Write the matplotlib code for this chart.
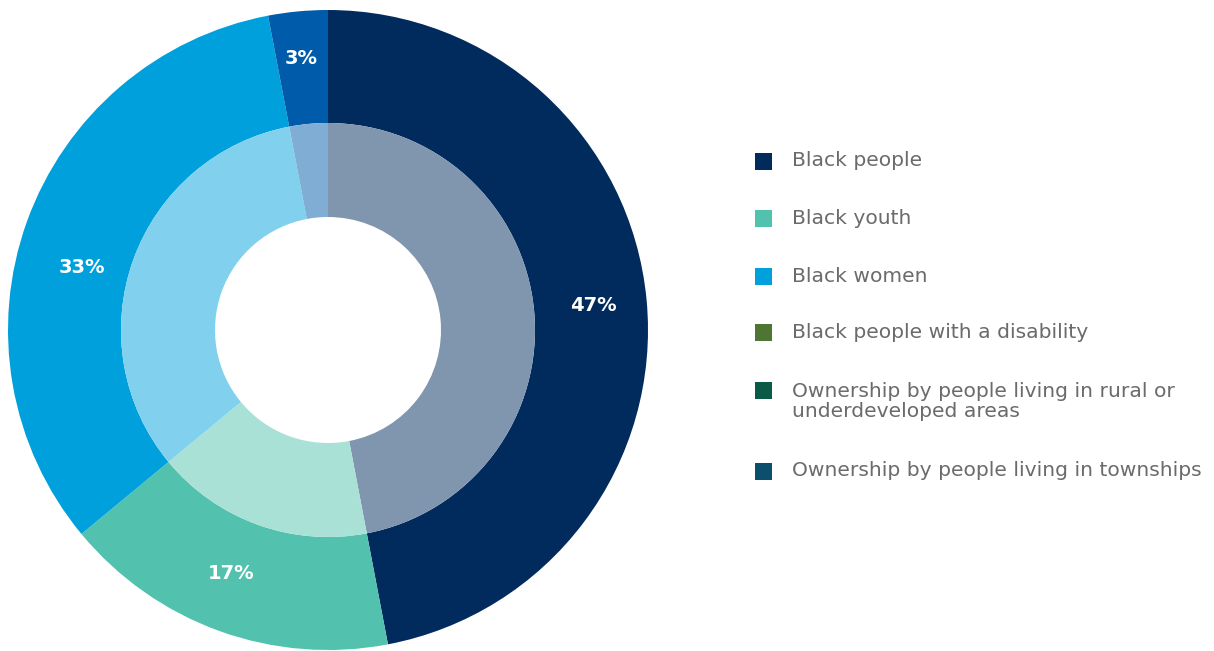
import matplotlib
matplotlib.use("Agg")
import matplotlib.pyplot as plt
import numpy as np
from matplotlib.colors import to_rgb
from matplotlib.patches import Rectangle

# Share of ownership by group (outer ring, clockwise from 12 o'clock)
slice_values = [47, 17, 33, 3]
slice_colors = ["#002B5C", "#52C2AF", "#00A0DC", "#005BAA"]

legend_labels = [
    "Black people",
    "Black youth",
    "Black women",
    "Black people with a disability",
    "Ownership by people living in rural or\nunderdeveloped areas",
    "Ownership by people living in townships",
]
legend_colors = ["#002B5C", "#52C2AF", "#00A0DC", "#4F7535", "#0B5A47", "#0B4F6C"]


def tint(color, amount=0.5):
    r, g, b = to_rgb(color)
    return (r + (1 - r) * amount, g + (1 - g) * amount, b + (1 - b) * amount)


W, H = 1214, 651
fig = plt.figure(figsize=(W / 100, H / 100), dpi=100)

# Donut axes: centre (328, 330) px, outer radius 320 px
cx, cy, R = 328, 330, 320
ax = fig.add_axes([(cx - R) / W, (H - cy - R) / H, 2 * R / W, 2 * R / H])

r_mid = 207 / R
r_hole = 113 / R

outer, _ = ax.pie(
    slice_values, colors=slice_colors, radius=1.0, startangle=90,
    counterclock=False,
    wedgeprops=dict(width=1.0 - r_mid, linewidth=0),
)
ax.pie(
    slice_values, colors=[tint(c) for c in slice_colors], radius=r_mid,
    startangle=90, counterclock=False,
    wedgeprops=dict(width=r_mid - r_hole, linewidth=0),
)
ax.set_xlim(-1, 1)
ax.set_ylim(-1, 1)
ax.set_aspect("equal")
ax.axis("off")

# Percentage labels sit mid-ring; small pixel nudges keep them clear of seams
label_nudge_px = [(3, 0), (-8, 4), (2, -27), (-2, 9)]
for w, v, (nx, ny) in zip(outer, slice_values, label_nudge_px):
    ang = np.deg2rad((w.theta1 + w.theta2) / 2)
    rl = 0.823
    ax.text(rl * np.cos(ang) + nx / R, rl * np.sin(ang) + ny / R, f"{v}%",
            ha="center", va="center", color="white", fontsize=14,
            fontweight="bold", family="DejaVu Sans")

# Legend drawn in pixel coordinates
lax = fig.add_axes([0, 0, 1, 1])
lax.set_xlim(0, W)
lax.set_ylim(H, 0)
lax.axis("off")
row_y = [161, 218, 276, 332, 401.5, 471]
for y, lab, col in zip(row_y, legend_labels, legend_colors):
    n = lab.count("\n")
    sq_y = y - 11.5 * n
    lax.add_patch(Rectangle((755, sq_y - 8.5), 17, 17, color=col, lw=0))
    lax.text(792, y, lab, ha="left", va="center", color="#6B6B6B",
             fontsize=14.6, family="DejaVu Sans", linespacing=1.12)

fig.savefig("out.png", dpi=100)
